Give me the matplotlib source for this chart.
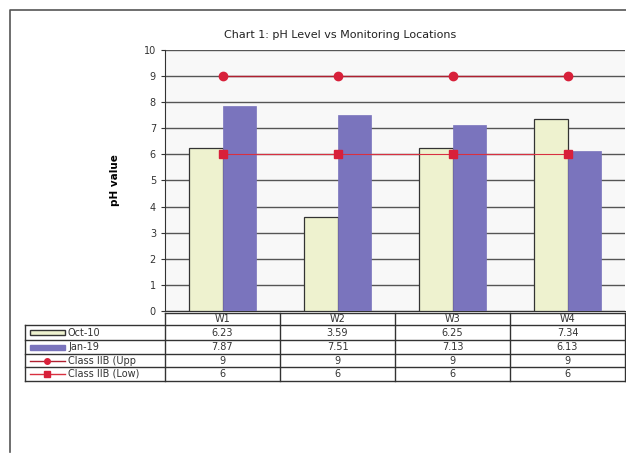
import matplotlib
matplotlib.use("Agg")
import matplotlib.pyplot as plt
from matplotlib.patches import Rectangle
import numpy as np

locations = ["W1", "W2", "W3", "W4"]
oct10 = [6.23, 3.59, 6.25, 7.34]
jan19 = [7.87, 7.51, 7.13, 6.13]
upper = [9, 9, 9, 9]
lower = [6, 6, 6, 6]
series_names = ["Oct-10", "Jan-19", "Class IIB (Upp", "Class IIB (Low)"]
title = "Chart 1: pH Level vs Monitoring Locations"

W, H = 626, 458
fig = plt.figure(figsize=(W / 100, H / 100), dpi=100)
fig.patch.set_facecolor("white")

# outer frame
frame = fig.add_axes([0, 0, 1, 1], zorder=-5)
frame.set_xlim(0, W); frame.set_ylim(H, 0); frame.axis("off")
frame.plot([10, 10, 626], [452, 10, 10], color="#555555", lw=1.2)

def fx(px): return px / W
def fy(py): return 1 - py / H

L, R, T, B = 165, 625, 50, 311
ax = fig.add_axes([fx(L), fy(B), fx(R - L), (B - T) / H])
ax.set_facecolor("#f8f8f8")
x = np.arange(len(locations))
bw = 0.29
ax.bar(x - bw / 2, oct10, bw, color="#eef2cf", edgecolor="#333333", lw=0.9, zorder=3)
ax.bar(x + bw / 2, jan19, bw, color="#7a74bd", edgecolor="#7a74bd", lw=0.5, zorder=3)
ax.plot(x, upper, color="#b02030", lw=1.0, marker="o", ms=6, mfc="#d8203a", mec="#d8203a", zorder=4)
ax.plot(x, lower, color="#d83040", lw=0.8, marker="s", ms=6, mfc="#d8203a", mec="#d8203a", zorder=4)
ax.set_xlim(-0.5, 3.5)
ax.set_ylim(0, 10)
ax.set_yticks(range(0, 11))
ax.tick_params(axis="y", labelsize=7, length=3, color="#333333", labelcolor="#333333")
ax.set_xticks([])
ax.yaxis.grid(True, color="#555555", lw=1.0, zorder=0)
ax.set_axisbelow(True)
for s in ["top", "right"]:
    ax.spines[s].set_visible(False)
ax.spines["left"].set_color("#333333")
ax.spines["bottom"].set_color("#333333")
ax.set_ylabel("pH value", fontsize=7.5, fontweight="bold", labelpad=17)

fig.text(fx(340), fy(35), title, ha="center", va="center", fontsize=8, color="#222222")

# data table
tab = fig.add_axes([0, 0, 1, 1], zorder=5)
tab.set_xlim(0, W); tab.set_ylim(H, 0); tab.axis("off")
row_y = [313, 325, 340, 354, 367, 381]
col_x = [L + i * (R - L) / 4 for i in range(5)]
lc = "#333333"
tab.plot([L, R], [row_y[0], row_y[0]], color=lc, lw=1)
for yy in row_y[1:]:
    tab.plot([25, R], [yy, yy], color=lc, lw=1)
tab.plot([25, 25], [row_y[1], row_y[-1]], color=lc, lw=1)
for xx in col_x:
    tab.plot([xx, xx], [row_y[0], row_y[-1]], color=lc, lw=1)
for i, loc in enumerate(locations):
    cx = (col_x[i] + col_x[i + 1]) / 2
    tab.text(cx, (row_y[0] + row_y[1]) / 2, loc, ha="center", va="center", fontsize=7, color="#333333")
rows = [oct10, jan19, upper, lower]
for r, vals in enumerate(rows):
    cy = (row_y[r + 1] + row_y[r + 2]) / 2
    for i, v in enumerate(vals):
        cx = (col_x[i] + col_x[i + 1]) / 2
        tab.text(cx, cy, f"{v:g}", ha="center", va="center", fontsize=7, color="#333333")
    tab.text(68, cy, series_names[r], ha="left", va="center", fontsize=7, color="#333333")
cy0 = (row_y[1] + row_y[2]) / 2
tab.add_patch(Rectangle((30, cy0 - 2.5), 35, 5, facecolor="#eef2cf", edgecolor="#333333", lw=1))
cy1 = (row_y[2] + row_y[3]) / 2
tab.add_patch(Rectangle((30, cy1 - 2.5), 35, 5, facecolor="#7a74bd", edgecolor="#7a74bd", lw=1))
cy2 = (row_y[3] + row_y[4]) / 2
tab.plot([30, 65], [cy2, cy2], color="#b02030", lw=1)
tab.plot([47], [cy2], marker="o", ms=4, color="#d8203a")
cy3 = (row_y[4] + row_y[5]) / 2
tab.plot([30, 65], [cy3, cy3], color="#d83040", lw=1)
tab.plot([47], [cy3], marker="s", ms=4, color="#d8203a")

fig.savefig("out.png", dpi=100)
